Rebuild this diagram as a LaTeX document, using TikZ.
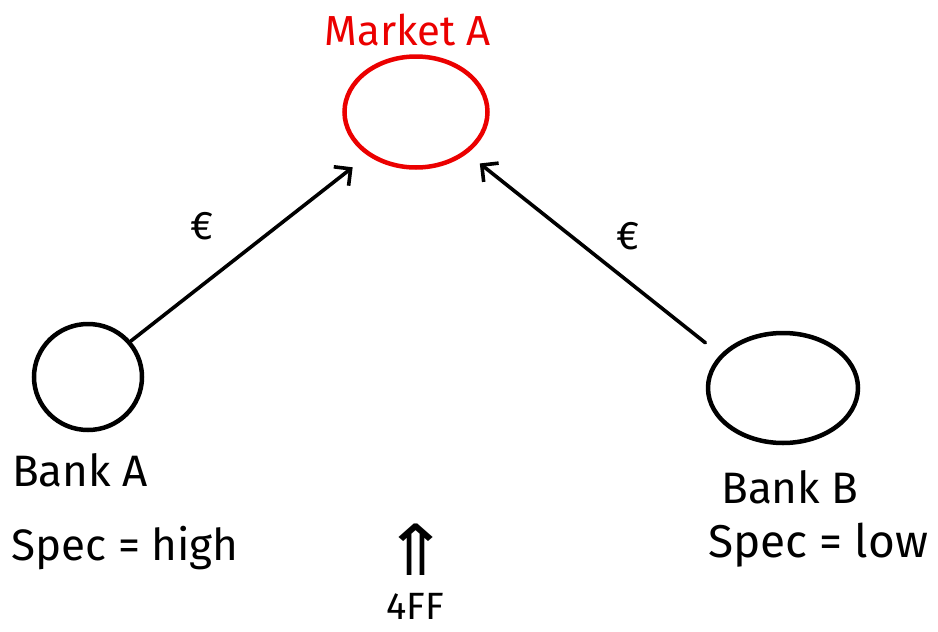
\documentclass[tikz,border=0pt]{standalone}
\usepackage{fontspec}
\setmainfont{Fira Sans}
\newfontfamily\symfont{DejaVu Sans}
\usetikzlibrary{shapes.geometric,arrows.meta}
\definecolor{mkred}{RGB}{235,0,0}
\begin{document}
\begin{tikzpicture}[x=1pt,y=-1pt,
  blob/.style={ellipse,draw,line width=4.5pt,inner sep=0pt},
  flow/.style={line width=3.6pt,-{Straight Barb[length=12pt,width=24pt,line width=3.6pt]},line cap=round},
  hand/.style={font=\fontsize{44}{50}\selectfont,inner sep=0pt},
  small/.style={font=\fontsize{40}{42}\selectfont,inner sep=0pt}]
\useasboundingbox (0,0) rectangle (938,632);
\node[blob,draw=mkred,minimum width=143pt,minimum height=111pt] (market) at (416,112) {};
\node[blob,minimum width=108pt,minimum height=106pt] (bankA) at (88,377) {};
\node[blob,minimum width=150pt,minimum height=110pt] (bankB) at (783,388) {};
\node[font=\fontsize{42}{46}\selectfont,inner sep=0pt,text=mkred] (mlabel) at (408,30) {Market A};
\node[hand] (alabel) at (80,470) {Bank A};
\node[hand] (aspec) at (125,548) {Spec = high};
\node[hand] (blabel) at (790,487) {Bank B};
\node[font=\fontsize{46}{50}\selectfont,inner sep=0pt] (bspec) at (818,545) {Spec = low};
\node[small] (eurA) at (202,226) {€};
\node[small] (eurB) at (628,236) {€};
\node[font=\symfont\fontsize{64}{64}\selectfont,inner sep=0pt] (up) at (416,550) {\scalebox{1.25}[1.1]{⇑}};
\node[font=\fontsize{38}{40}\selectfont,inner sep=0pt] (aff) at (415,606) {4FF};
\draw[flow,shorten >=19pt] (bankA.40) -- (market.222);
\draw[flow,shorten <=19pt,shorten >=16pt] (bankB.152) -- (market.321);
\end{tikzpicture}
\end{document}
